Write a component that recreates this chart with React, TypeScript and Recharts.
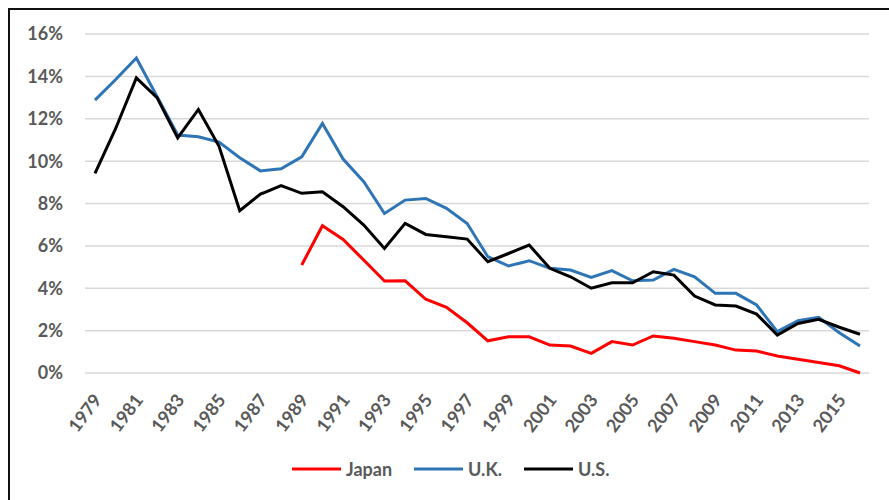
import React from 'react';
import { LineChart, Line, XAxis, YAxis, CartesianGrid, Legend } from 'recharts';

const years = ['1979','1980','1981','1982','1983','1984','1985','1986','1987','1988','1989','1990','1991','1992','1993','1994','1995','1996','1997','1998','1999','2000','2001','2002','2003','2004','2005','2006','2007','2008','2009','2010','2011','2012','2013','2014','2015','2016'];

const japan: (number | null)[] = [null, null, null, null, null, null, null, null, null, null,
  5.1, 6.95, 6.3, 5.33, 4.34, 4.35, 3.48, 3.1, 2.37, 1.52,
  1.71, 1.71, 1.32, 1.27, 0.93, 1.48, 1.32, 1.75, 1.64, 1.48,
  1.32, 1.08, 1.04, 0.8, 0.65, 0.5, 0.34, 0];

const uk: number[] = [12.88, 13.85, 14.87, 13.05, 11.23, 11.15, 10.9, 10.16, 9.54, 9.64,
  10.2, 11.78, 10.1, 9.03, 7.53, 8.16, 8.24, 7.77, 7.06, 5.49,
  5.05, 5.3, 4.94, 4.86, 4.51, 4.83, 4.35, 4.39, 4.89, 4.54,
  3.76, 3.76, 3.21, 1.95, 2.47, 2.63, 1.9, 1.27];

const us: number[] = [9.42, 11.54, 13.93, 13.0, 11.1, 12.44, 10.7, 7.66, 8.44, 8.84,
  8.48, 8.55, 7.85, 6.98, 5.88, 7.06, 6.54, 6.43, 6.32, 5.25,
  5.64, 6.04, 4.94, 4.54, 4.0, 4.26, 4.26, 4.78, 4.62, 3.63,
  3.21, 3.16, 2.78, 1.79, 2.34, 2.53, 2.16, 1.83];

const yTicks = [0, 2, 4, 6, 8, 10, 12, 14, 16];

const seriesInfo = [
  { key: 'japan', name: 'Japan', color: '#FF0000' },
  { key: 'uk', name: 'U.K.', color: '#2E75B6' },
  { key: 'us', name: 'U.S.', color: '#000000' },
];

const data = years.map((y, i) => ({ year: y, japan: japan[i], uk: uk[i], us: us[i] }));

const FONT = 'Lato, "Open Sans", sans-serif';
const TEXT_COLOR = '#595959';

const XTick = (props: any) => {
  const { x, y, payload } = props;
  const ax = x + 2;
  const ay = y + 23;
  return (
    <text
      x={ax}
      y={ay}
      transform={`rotate(-53, ${ax}, ${ay})`}
      textAnchor="end"
      dominantBaseline="central"
      fontFamily={FONT}
      fontWeight={700}
      fontSize={18}
      fill={TEXT_COLOR}
    >
      {payload.value}
    </text>
  );
};

const LegendContent = () => (
  <div
    style={{
      display: 'flex',
      alignItems: 'center',
      height: 20,
      paddingLeft: 282,
      fontFamily: FONT,
      fontWeight: 700,
      fontSize: 18,
      color: TEXT_COLOR,
      lineHeight: '20px',
    }}
  >
    {seriesInfo.map((s) => (
      <div key={s.key} style={{ display: 'flex', alignItems: 'center', marginRight: 22 }}>
        <svg width={49} height={6} style={{ display: 'block' }}>
          <line x1={0} y1={3} x2={49} y2={3} stroke={s.color} strokeWidth={3} />
        </svg>
        <span style={{ marginLeft: 5 }}>{s.name}</span>
      </div>
    ))}
  </div>
);

export default function App() {
  return (
    <div
      style={{
        position: 'fixed',
        top: 8,
        left: 8,
        borderTop: '2px solid #111',
        borderLeft: '2px solid #111',
        width: 1000,
        height: 600,
        boxSizing: 'border-box',
        background: '#fff',
      }}
    >
      <LineChart
        width={879}
        height={490}
        data={data}
        margin={{ top: 24, right: 20, bottom: 21, left: 0 }}
      >
        <CartesianGrid horizontal vertical={false} stroke="#D9D9D9" strokeWidth={1.5} />
        <XAxis
          dataKey="year"
          interval={1}
          tickLine={false}
          axisLine={false}
          tickSize={0}
          tickMargin={0}
          height={86}
          padding={{ left: 10, right: 9 }}
          tick={<XTick />}
        />
        <YAxis
          domain={[0, 16]}
          ticks={yTicks}
          width={75}
          tickLine={false}
          axisLine={false}
          tickSize={0}
          tickMargin={22}
          tickFormatter={(v: number) => `${v}%`}
          tick={{ fontFamily: FONT, fontWeight: 700, fontSize: 18, fill: TEXT_COLOR }}
        />
        <Legend
          verticalAlign="bottom"
          height={20}
          wrapperStyle={{ left: 0, width: 879 }}
          content={<LegendContent />}
        />
        {seriesInfo.map((s) => (
          <Line
            key={s.key}
            dataKey={s.key}
            name={s.name}
            stroke={s.color}
            strokeWidth={3}
            dot={false}
            activeDot={false}
            type="linear"
            isAnimationActive={false}
          />
        ))}
      </LineChart>
    </div>
  );
}
